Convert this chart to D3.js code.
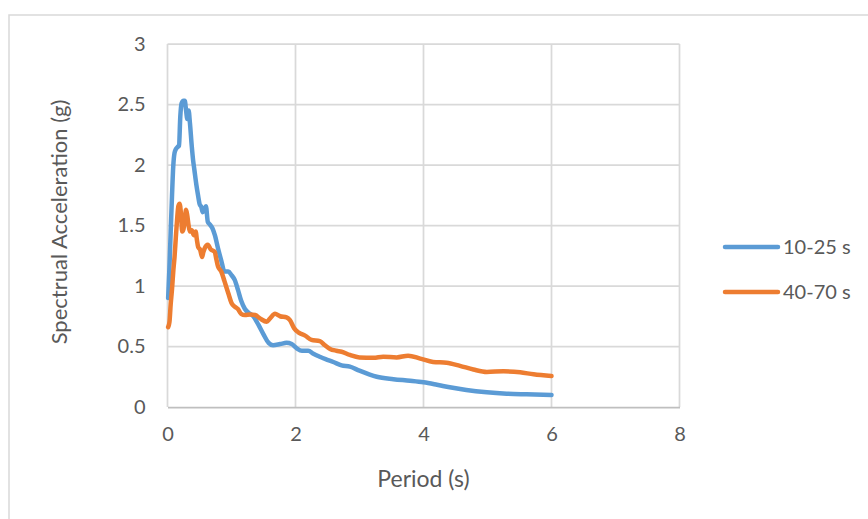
<!DOCTYPE html>
<html>
<head>
<meta charset="utf-8">
<script src="https://cdn.jsdelivr.net/npm/d3@7"></script>
<style>
  html, body { margin: 0; padding: 0; background: #ffffff; }
  svg { display: block; }
  text { font-family: Lato, "Open Sans", sans-serif; fill: #595959; }
</style>
</head>
<body>
<svg id="chart" width="868" height="519"></svg>
<script>
// Response spectra for two record windows
const seriesNames = ["10-25 s", "40-70 s"];
const seriesColors = ["#5B9BD5", "#ED7D31"];

const period1 = [0.01,0.03,0.05,0.07,0.09,0.11,0.13,0.16,0.18,0.20,0.22,0.25,0.27,0.29,0.31,0.33,0.35,0.38,0.40,0.42,0.45,0.48,0.50,0.53,0.55,0.58,0.60,0.63,0.66,0.70,0.74,0.79,0.84,0.89,0.95,1.00,1.05,1.10,1.15,1.21,1.29,1.34,1.42,1.50,1.58,1.65,1.76,1.86,1.94,2.02,2.10,2.20,2.28,2.38,2.47,2.59,2.72,2.85,3.00,3.15,3.27,3.53,3.79,4.00,4.21,4.41,4.67,4.99,5.30,5.61,6.00];
const accel1  = [0.90,1.15,1.45,1.74,1.99,2.10,2.13,2.15,2.16,2.40,2.51,2.53,2.53,2.45,2.38,2.45,2.35,2.15,2.04,1.96,1.84,1.74,1.68,1.65,1.61,1.64,1.66,1.53,1.51,1.48,1.42,1.31,1.21,1.12,1.12,1.09,1.05,0.97,0.88,0.81,0.77,0.75,0.68,0.60,0.53,0.51,0.52,0.53,0.52,0.485,0.465,0.465,0.44,0.415,0.395,0.372,0.344,0.333,0.30,0.27,0.25,0.23,0.217,0.204,0.184,0.163,0.14,0.121,0.11,0.105,0.10];

const period2 = [0.01,0.03,0.05,0.07,0.09,0.11,0.13,0.15,0.17,0.19,0.21,0.23,0.25,0.27,0.29,0.31,0.33,0.35,0.38,0.41,0.44,0.46,0.48,0.51,0.54,0.56,0.58,0.63,0.68,0.72,0.74,0.76,0.79,0.84,0.89,0.95,1.00,1.05,1.10,1.15,1.21,1.29,1.37,1.45,1.55,1.60,1.68,1.76,1.86,1.91,1.98,2.05,2.15,2.25,2.38,2.46,2.54,2.64,2.72,2.85,3.00,3.22,3.37,3.58,3.76,3.95,4.15,4.36,4.57,4.78,4.99,5.25,5.51,5.72,6.00];
const accel2  = [0.66,0.70,0.85,0.97,1.12,1.24,1.40,1.55,1.66,1.68,1.60,1.45,1.47,1.55,1.63,1.58,1.50,1.45,1.46,1.42,1.45,1.38,1.32,1.30,1.24,1.28,1.31,1.34,1.30,1.29,1.28,1.23,1.16,1.12,1.04,0.94,0.86,0.83,0.81,0.77,0.76,0.765,0.76,0.73,0.705,0.73,0.77,0.75,0.74,0.72,0.65,0.615,0.59,0.555,0.545,0.51,0.48,0.465,0.457,0.43,0.41,0.407,0.416,0.41,0.424,0.40,0.372,0.366,0.34,0.31,0.29,0.295,0.287,0.27,0.256];

const xTicks = [0, 2, 4, 6, 8];
const yTicks = [0, 0.5, 1, 1.5, 2, 2.5, 3];

const svg = d3.select("#chart");

// Chart frame
svg.append("rect")
  .attr("x", 9).attr("y", 15)
  .attr("width", 880).attr("height", 530)
  .attr("fill", "#ffffff")
  .attr("stroke", "#d9d9d9").attr("stroke-width", 1.5);

const plot = { left: 167.5, right: 679.5, top: 44, bottom: 407 };

const x = d3.scaleLinear().domain([0, 8]).range([plot.left, plot.right]);
const y = d3.scaleLinear().domain([0, 3]).range([plot.bottom, plot.top]);

// Gridlines
const grid = svg.append("g");
grid.selectAll("line.h").data(yTicks.filter(d => d > 0)).join("line")
  .attr("x1", plot.left).attr("x2", plot.right)
  .attr("y1", d => y(d)).attr("y2", d => y(d))
  .attr("stroke", "#d9d9d9").attr("stroke-width", 1.75);
grid.selectAll("line.v").data(xTicks).join("line")
  .attr("y1", plot.top).attr("y2", plot.bottom)
  .attr("x1", d => x(d)).attr("x2", d => x(d))
  .attr("stroke", "#d9d9d9").attr("stroke-width", 1.75);

// X axis
const xAxis = svg.append("g")
  .attr("transform", `translate(0,${plot.bottom})`)
  .call(d3.axisBottom(x).tickValues(xTicks).tickSize(0).tickPadding(20).tickFormat(d3.format("d")));
xAxis.select(".domain").attr("stroke", "#bfbfbf").attr("stroke-width", 1.75);
xAxis.selectAll("text").attr("font-size", 20).attr("fill", "#595959")
  .style("font-family", "Lato, 'Open Sans', sans-serif");

// Y axis
const yAxis = svg.append("g")
  .attr("transform", `translate(${plot.left},0)`)
  .call(d3.axisLeft(y).tickValues(yTicks).tickSize(0).tickPadding(22).tickFormat(d => d));
yAxis.select(".domain").remove();
yAxis.selectAll("text").attr("font-size", 20).attr("fill", "#595959")
  .style("font-family", "Lato, 'Open Sans', sans-serif");

// Axis titles
svg.append("text")
  .attr("x", x(4)).attr("y", 487)
  .attr("text-anchor", "middle")
  .attr("font-size", 23)
  .text("Period (s)");

svg.append("text")
  .attr("transform", `translate(67,222) rotate(-90)`)
  .attr("text-anchor", "middle")
  .attr("font-size", 22)
  .text("Spectrual Acceleration (g)");

// Series lines
const line = d3.line()
  .x(d => x(d[0]))
  .y(d => y(d[1]))
  .curve(d3.curveMonotoneX);

const series = [
  d3.zip(period1, accel1),
  d3.zip(period2, accel2)
];

svg.append("g").selectAll("path").data(series).join("path")
  .attr("d", line)
  .attr("fill", "none")
  .attr("stroke", (d, i) => seriesColors[i])
  .attr("stroke-width", 4.5)
  .attr("stroke-linejoin", "round")
  .attr("stroke-linecap", "round");

// Legend
const legend = svg.append("g");
const legendY = [247, 292];
seriesNames.forEach((name, i) => {
  legend.append("line")
    .attr("x1", 725).attr("x2", 778)
    .attr("y1", legendY[i]).attr("y2", legendY[i])
    .attr("stroke", seriesColors[i])
    .attr("stroke-width", 4.5)
    .attr("stroke-linecap", "round");
  legend.append("text")
    .attr("x", 783).attr("y", legendY[i])
    .attr("dy", "0.35em")
    .attr("font-size", 20)
    .text(name);
});
</script>
</body>
</html>
